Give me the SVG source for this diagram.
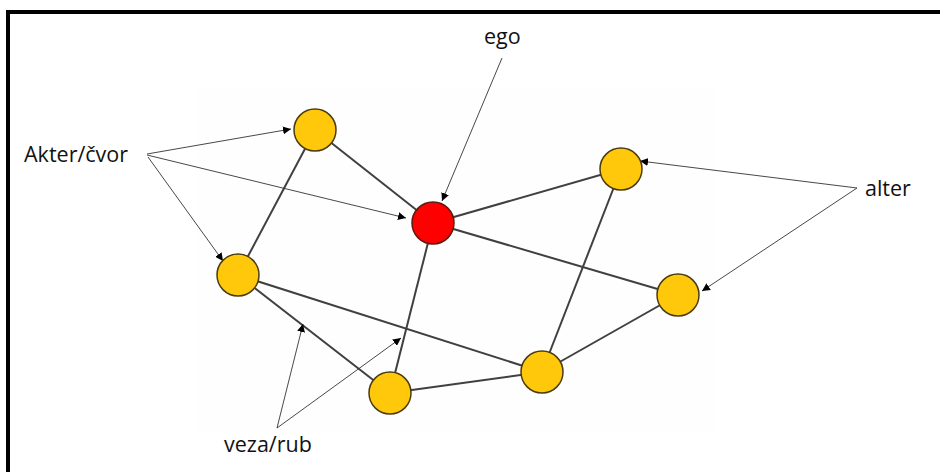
<svg xmlns="http://www.w3.org/2000/svg" width="940" height="472" viewBox="0 0 940 472">
<defs>
<style>
.edge{stroke:#404040;stroke-width:2;fill:none}
.ptr{stroke:#333;stroke-width:0.9;fill:none}
.yel{fill:#FFC80A;stroke:#4a3c10;stroke-width:1.5}
.red{fill:#FF0000;stroke:#5a1a10;stroke-width:1.5}
.lbl{font-family:"Open Sans","Liberation Sans",sans-serif;font-size:21.5px;fill:#111}
</style>
<marker id="ah" viewBox="0 0 10 10" refX="10" refY="5" markerWidth="8" markerHeight="8" markerUnits="userSpaceOnUse" orient="auto">
<path d="M0,0 L10,5 L0,10 z" fill="#000"/>
</marker>
</defs>
<rect width="940" height="472" fill="#fff"/>
<rect x="196" y="88" width="521" height="345" fill="#fefefe"/>
<path d="M8,472 V12 H940" stroke="#000" stroke-width="4" fill="none"/>
<g id="connectors">
<line class="edge" x1="315" y1="130" x2="238" y2="275"/>
<line class="edge" x1="315" y1="130" x2="433" y2="223"/>
<line class="edge" x1="433" y1="223" x2="621" y2="169"/>
<line class="edge" x1="433" y1="223" x2="678" y2="295"/>
<line class="edge" x1="433" y1="223" x2="390" y2="393"/>
<line class="edge" x1="238" y1="275" x2="390" y2="393"/>
<line class="edge" x1="238" y1="275" x2="542" y2="372"/>
<line class="edge" x1="390" y1="393" x2="542" y2="372"/>
<line class="edge" x1="542" y1="372" x2="621" y2="169"/>
<line class="edge" x1="542" y1="372" x2="678" y2="295"/>
<line class="ptr" x1="147" y1="154" x2="291" y2="129" marker-end="url(#ah)"/>
<line class="ptr" x1="147" y1="155" x2="406" y2="218" marker-end="url(#ah)"/>
<line class="ptr" x1="148" y1="157" x2="223" y2="261" marker-end="url(#ah)"/>
<line class="ptr" x1="502" y1="58" x2="442" y2="201" marker-end="url(#ah)"/>
<line class="ptr" x1="857" y1="188" x2="640" y2="161" marker-end="url(#ah)"/>
<line class="ptr" x1="857" y1="188" x2="702" y2="291" marker-end="url(#ah)"/>
<line class="ptr" x1="277" y1="428" x2="303" y2="324" marker-end="url(#ah)"/>
<line class="ptr" x1="277" y1="428" x2="401" y2="338" marker-end="url(#ah)"/>
</g>
<g id="n-tl"><circle class="yel" cx="315" cy="130" r="21"/></g>
<g id="n-ego"><circle class="red" cx="433" cy="223" r="21"/></g>
<g id="n-tr"><circle class="yel" cx="621" cy="169" r="21"/></g>
<g id="n-left"><circle class="yel" cx="238" cy="275" r="21"/></g>
<g id="n-right"><circle class="yel" cx="678" cy="295" r="21"/></g>
<g id="n-bottom"><circle class="yel" cx="390" cy="393" r="21"/></g>
<g id="n-br"><circle class="yel" cx="542" cy="372" r="21"/></g>
<g id="labels">
<text class="lbl" x="24" y="162">Akter/čvor</text>
<text class="lbl" x="484" y="44">ego</text>
<text class="lbl" x="865" y="196">alter</text>
<text class="lbl" x="224" y="452">veza/rub</text>
</g>
</svg>
